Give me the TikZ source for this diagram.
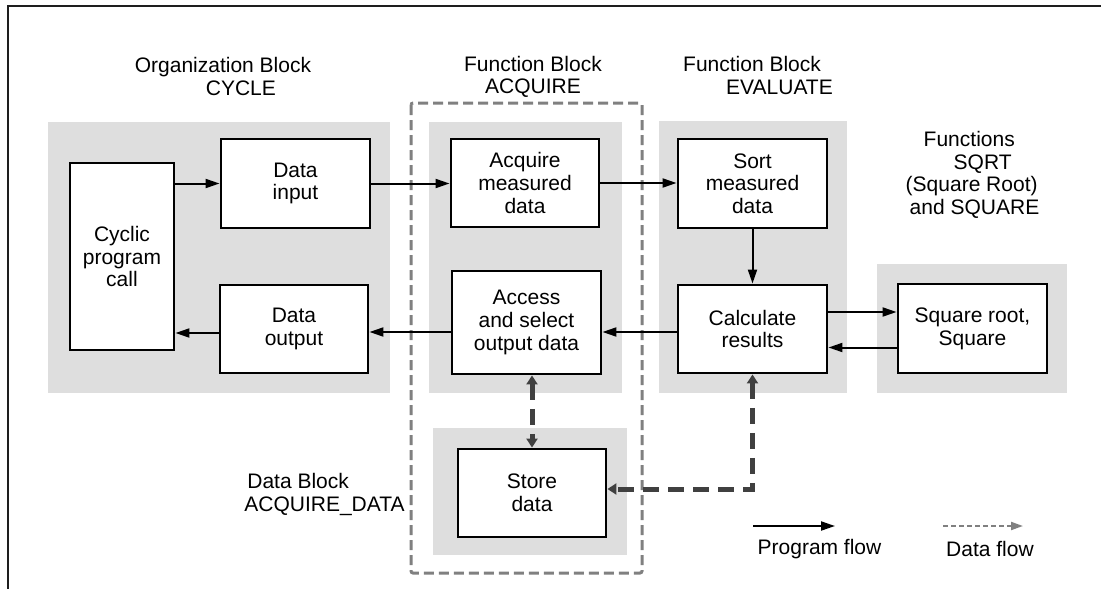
\documentclass[tikz,border=0pt]{standalone}
\usepackage{fontspec}
\setmainfont{Liberation Sans}
\usetikzlibrary{arrows.meta,calc}
\definecolor{panelgray}{RGB}{222,222,222}
\definecolor{dfgray}{RGB}{64,64,64}
\definecolor{dboxgray}{RGB}{128,128,128}
\definecolor{framecol}{RGB}{30,30,30}
\begin{document}
\begin{tikzpicture}[x=1pt,y=-1pt,
  every node/.style={font=\fontsize{21}{22.7}\selectfont},
  box/.style={draw=black, line width=2.9pt, fill=white, inner sep=0pt, align=center},
  ttl/.style={inner sep=0pt},
  panel/.style={fill=panelgray},
  pf/.style={draw=black, line width=2pt, -{Triangle[length=14pt,width=9pt]}},
  df/.style={draw=dfgray, line width=5pt, dash pattern=on 16pt off 9pt,
    {Triangle[length=9pt,width=11pt]}-{Triangle[length=9pt,width=11pt]}},
  dbox/.style={draw=dboxgray, line width=3pt, dash pattern=on 10pt off 5pt, rounded corners=2pt},
  legdf/.style={draw=dboxgray, line width=2pt, dash pattern=on 5pt off 3pt, -{Triangle[length=12pt,width=8pt]}},
  frame/.style={draw=framecol, line width=1.8pt}
]
\useasboundingbox (0,0) rectangle (1101,589);
% frame
\draw[frame] (8,589) -- (8,6) -- (1101,6);
% gray panels
\fill[panel] (48,122) rectangle (390,393);
\fill[panel] (429,122) rectangle (622,393);
\fill[panel] (659,121) rectangle (847,393);
\fill[panel] (877,264) rectangle (1067,393);
\fill[panel] (433,428) rectangle (627,555);
% dashed FB ACQUIRE outline
\draw[dbox] (411,103) rectangle (642,573);
% titles
\node[ttl, align=left] (tOB) at (223,76.5) {Organization Block\\\hspace*{71pt}CYCLE};
\node[ttl, align=center] (tACQ) at (533,77) {Function Block\\ACQUIRE};
\node[ttl, align=left] (tEV) at (758,75.5) {Function Block\\\hspace*{43pt}EVALUATE};
\node[ttl, align=left] (tFN) at (972.5,175) {\hspace*{18pt}Functions\\\hspace*{48pt}SQRT\\(Square Root)\\\hspace*{4pt}and SQUARE};
\node[ttl, align=left] (tDB) at (324.5,494.5) {\hspace*{3pt}Data Block\\ACQUIRE\_DATA};
% boxes
\node[box, minimum width=104pt, minimum height=187pt] (cyc) at (122,256.5) {Cyclic\\program\\call};
\node[box, minimum width=149pt, minimum height=89pt] (din) at (295.5,183.5) {Data\\input};
\node[box, minimum width=148pt, minimum height=88pt] (acq) at (525,183) {Acquire\\measured\\data};
\node[box, minimum width=149pt, minimum height=89pt] (sort) at (752.5,183.5) {Sort\\measured\\data};
\node[box, minimum width=149pt, minimum height=88pt] (calc) at (752.5,329) {Calculate\\results};
\node[box, minimum width=149pt, minimum height=89pt] (sq) at (972.5,328.5) {Square root,\\Square};
\node[box, minimum width=148pt, minimum height=88pt] (dout) at (294,329) {Data\\output};
\node[box, minimum width=149pt, minimum height=103pt] (acc) at (526.5,322.5) {Access\\and select\\output data};
\node[box, minimum width=148pt, minimum height=88pt] (store) at (532,493) {Store\\data};
% program flow
\draw[pf] (cyc.east |- din.west) -- (din.west);
\draw[pf] (din.east) -- (acq.west |- din.east);
\draw[pf] (acq.east) -- (sort.west |- acq.east);
\draw[pf] (sort.south) -- (calc.north);
\draw[pf] ([yshift=17pt]calc.east) -- ([yshift=17pt]calc.east -| sq.west);
\draw[pf] ([yshift=-19pt]sq.west) -- ([yshift=-19pt]sq.west -| calc.east);
\draw[pf] ([yshift=-3pt]calc.west) -- ([yshift=-3pt]calc.west -| acc.east);
\draw[pf] ([yshift=-3pt]acc.west |- dout.east) -- ([yshift=-3pt]dout.east);
\draw[pf] ([yshift=-4pt]dout.west) -- ([yshift=-4pt]dout.west -| cyc.east);
% data flow
\draw[df] (acc.south -| store.north) -- (store.north);
\draw[df] (calc.south) -- ([yshift=4pt]calc.south |- store.east) -- ([yshift=4pt]store.east);
% legend
\coordinate (pfa) at (753,526);
\coordinate (pfb) at (835,526);
\coordinate (dfa) at (943,526);
\coordinate (dfb) at (1023,526);
\draw[pf] (pfa) -- (pfb);
\draw[legdf] (dfa) -- (dfb);
\node[ttl] (lpf) at (819.5,549) {Program flow};
\node[ttl] (ldf) at (990,549) {Data flow};
\end{tikzpicture}
\end{document}
